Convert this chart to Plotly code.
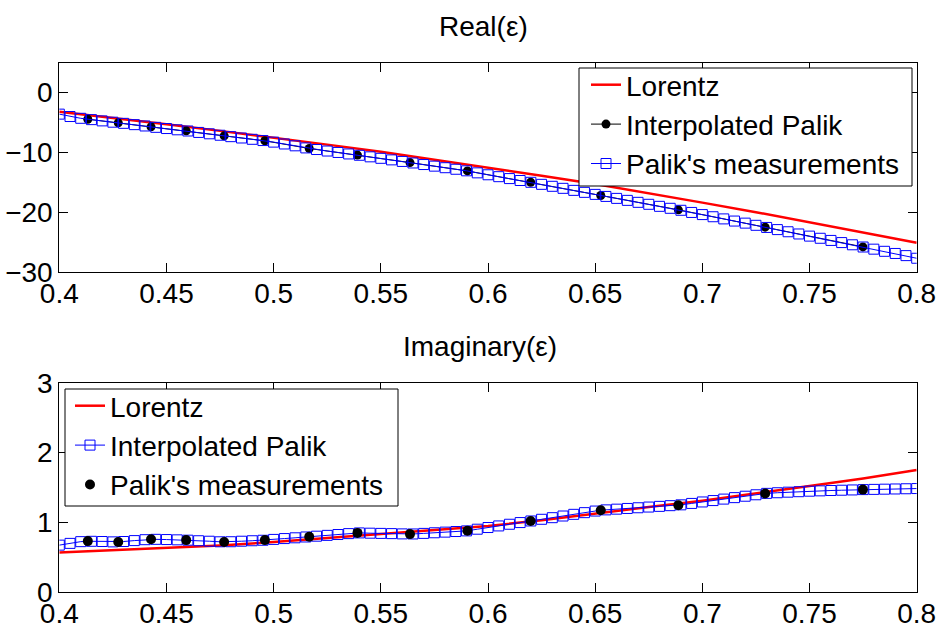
import plotly.graph_objects as go

# Wavelength grids (micrometres)
palik_x = [0.4133, 0.4275, 0.4428, 0.4592, 0.4769, 0.4959, 0.5166, 0.5391,
           0.5636, 0.5904, 0.6199, 0.6526, 0.6888, 0.7293, 0.7749]
grid_x = [round(0.4 + 0.005 * k, 3) for k in range(81)]
lorentz_x = [0.4, 0.425, 0.45, 0.475, 0.5, 0.525, 0.55, 0.575, 0.6, 0.625,
             0.65, 0.675, 0.7, 0.725, 0.75, 0.775, 0.8]

# Real part
real_palik = [-4.45, -5.06, -5.73, -6.4, -7.23, -8.06, -9.35, -10.45,
              -11.7, -13.1, -15.0, -17.2, -19.6, -22.5, -25.8]
real_grid = [-3.6, -4.0, -4.3, -4.52, -4.73, -4.95, -5.14, -5.36, -5.58, -5.81,
             -6.01, -6.22, -6.42, -6.66, -6.89, -7.13, -7.37, -7.59, -7.81, -8.02,
             -8.28, -8.59, -8.90, -9.25, -9.52, -9.77, -10.01, -10.26, -10.48, -10.74,
             -10.99, -11.25, -11.51, -11.77, -12.03, -12.30, -12.56, -12.82, -13.08, -13.42,
             -13.74, -14.06, -14.38, -14.70, -15.0, -15.34, -15.67, -16.01, -16.35, -16.68,
             -17.02, -17.36, -17.69, -18.02, -18.35, -18.68, -19.02, -19.35, -19.68, -20.04,
             -20.40, -20.76, -21.12, -21.48, -21.83, -22.19, -22.55, -22.91, -23.27, -23.64,
             -24.00, -24.36, -24.72, -25.08, -25.45, -25.82, -26.18, -26.54, -26.90, -27.26,
             -27.7]
real_lorentz = [-3.2, -4.2, -5.3, -6.4, -7.5, -8.7, -9.9, -11.2, -12.5, -13.9,
                -15.3, -16.8, -18.4, -20.0, -21.7, -23.4, -25.1]

# Imaginary part
imag_palik = [0.733, 0.72, 0.76, 0.747, 0.72, 0.747, 0.795, 0.85,
              0.833, 0.88, 1.02, 1.175, 1.247, 1.414, 1.47]
imag_grid = [0.675, 0.70, 0.725, 0.73, 0.727, 0.722, 0.727, 0.74, 0.753, 0.758,
             0.755, 0.751, 0.746, 0.738, 0.731, 0.723, 0.724, 0.731, 0.738, 0.745,
             0.757, 0.769, 0.78, 0.792, 0.803, 0.815, 0.827, 0.84, 0.85, 0.846,
             0.843, 0.84, 0.836, 0.835, 0.843, 0.852, 0.861, 0.87, 0.879, 0.903,
             0.927, 0.95, 0.974, 0.998, 1.021, 1.045, 1.068, 1.092, 1.116, 1.14,
             1.163, 1.18, 1.19, 1.2, 1.21, 1.22, 1.23, 1.24, 1.252, 1.272,
             1.293, 1.313, 1.334, 1.355, 1.375, 1.396, 1.416, 1.425, 1.433, 1.44,
             1.447, 1.452, 1.457, 1.461, 1.465, 1.47, 1.473, 1.476, 1.479, 1.482,
             1.485]
imag_lorentz = [0.57, 0.60, 0.63, 0.67, 0.72, 0.78, 0.84, 0.89, 0.95, 1.03,
                1.13, 1.22, 1.31, 1.41, 1.52, 1.63, 1.75]

x_ticks = [0.4, 0.45, 0.5, 0.55, 0.6, 0.65, 0.7, 0.75, 0.8]
x_labels = ["0.4", "0.45", "0.5", "0.55", "0.6", "0.65", "0.7", "0.75", "0.8"]
real_ticks = [-30, -20, -10, 0]
imag_ticks = [0, 1, 2, 3]

FONT = "Liberation Sans, Arial, Helvetica, sans-serif"
FS = 28
RED = "#ff0000"
BLUE = "#0000ff"

fig = go.Figure()

# Top panel
fig.add_trace(go.Scatter(x=lorentz_x, y=real_lorentz, mode="lines", name="Lorentz",
                         line=dict(color=RED, width=2.5), xaxis="x", yaxis="y",
                         legend="legend"))
fig.add_trace(go.Scatter(x=palik_x, y=real_palik, mode="lines+markers",
                         name="Interpolated Palik",
                         line=dict(color="black", width=1),
                         marker=dict(symbol="circle", size=9, color="black"),
                         xaxis="x", yaxis="y", legend="legend"))
fig.add_trace(go.Scatter(x=grid_x, y=real_grid, mode="lines+markers",
                         name="Palik's measurements",
                         line=dict(color=BLUE, width=1),
                         marker=dict(symbol="square-open", size=10, color=BLUE,
                                     line=dict(width=1, color=BLUE)),
                         xaxis="x", yaxis="y", legend="legend"))

# Bottom panel
fig.add_trace(go.Scatter(x=lorentz_x, y=imag_lorentz, mode="lines", name="Lorentz",
                         line=dict(color=RED, width=2.5), xaxis="x2", yaxis="y2",
                         legend="legend2"))
fig.add_trace(go.Scatter(x=grid_x, y=imag_grid, mode="lines+markers",
                         name="Interpolated Palik",
                         line=dict(color=BLUE, width=1),
                         marker=dict(symbol="square-open", size=10, color=BLUE,
                                     line=dict(width=1, color=BLUE)),
                         xaxis="x2", yaxis="y2", legend="legend2"))
fig.add_trace(go.Scatter(x=palik_x, y=imag_palik, mode="markers",
                         name="Palik's measurements",
                         marker=dict(symbol="circle", size=10, color="black"),
                         xaxis="x2", yaxis="y2", legend="legend2"))

W, H = 941, 629
L, R = 59.3, 916.7
xdom = [L / W, R / W]

axis_common = dict(showgrid=False, zeroline=False, showline=True, linecolor="black",
                   linewidth=1, mirror="allticks", ticks="inside", ticklen=9,
                   tickcolor="black", tickwidth=1, automargin=False,
                   tickfont=dict(family=FONT, size=FS, color="black"))

def box(x0, y0, x1, y1):
    return dict(type="rect", xref="paper", yref="paper",
                x0=x0 / W, x1=x1 / W, y0=1 - y1 / H, y1=1 - y0 / H,
                fillcolor="white", line=dict(color="black", width=1), layer="above")

fig.update_layout(
    template="none",
    width=W, height=H, margin=dict(l=0, r=0, t=0, b=0, pad=0),
    paper_bgcolor="white", plot_bgcolor="white",
    font=dict(family=FONT, size=FS, color="black"),
    xaxis=dict(domain=xdom, range=[0.4, 0.8], anchor="y", tickvals=x_ticks,
               ticktext=x_labels, ticklabelstandoff=-4, **axis_common),
    yaxis=dict(domain=[1 - 272 / H, 1 - 62.7 / H], range=[-30, 5], anchor="x",
               tickvals=real_ticks, **axis_common),
    xaxis2=dict(domain=xdom, range=[0.4, 0.8], anchor="y2", tickvals=x_ticks,
                ticktext=x_labels, ticklabelstandoff=-4, **axis_common),
    yaxis2=dict(domain=[1 - 592.3 / H, 1 - 382.7 / H], range=[0, 3], anchor="x2",
                tickvals=imag_ticks, **axis_common),
    legend=dict(x=586 / W, y=1 - 60 / H, xanchor="left", yanchor="top",
                bgcolor="rgba(0,0,0,0)", borderwidth=0,
                font=dict(family=FONT, size=FS, color="black"),
                tracegroupgap=0, itemwidth=30),
    legend2=dict(x=70 / W, y=1 - 381 / H, xanchor="left", yanchor="top",
                 bgcolor="rgba(0,0,0,0)", borderwidth=0,
                 font=dict(family=FONT, size=FS, color="black"),
                 tracegroupgap=0, itemwidth=30),
    shapes=[box(579, 68, 912, 186), box(65, 389, 398, 506)],
    annotations=[
        dict(text="Real(ε)", x=483 / W, y=1 - 27 / H, xref="paper", yref="paper",
             showarrow=False, font=dict(family=FONT, size=FS, color="black"),
             xanchor="center", yanchor="middle"),
        dict(text="Imaginary(ε)", x=480 / W, y=1 - 346 / H, xref="paper", yref="paper",
             showarrow=False, font=dict(family=FONT, size=FS, color="black"),
             xanchor="center", yanchor="middle"),
    ],
)

fig.write_html("out.html")
